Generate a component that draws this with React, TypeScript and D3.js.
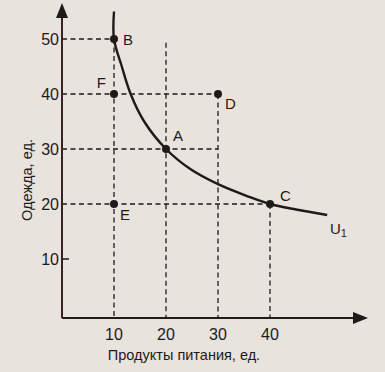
import React from 'react';
import * as d3 from 'd3';

// indifference curve U1 (food, clothes)
const curveFood = [10, 10, 11.5, 13.2, 15.8, 20, 24.6, 30, 36, 40, 45, 51];
const curveClothes = [55, 50, 45, 40, 35, 30, 26.4, 23.6, 21.3, 20, 19, 18];

// labelled bundles
const pointNames = ['B', 'F', 'A', 'D', 'E', 'C'];
const pointFood = [10, 10, 20, 30, 10, 40];
const pointClothes = [50, 40, 30, 40, 20, 20];

const xTicks = [10, 20, 30, 40];
const yTicks = [10, 20, 30, 40, 50];

const W = 385;
const H = 372;
const ink = '#1e1a1a';
const font = 'Liberation Sans, Arial, sans-serif';

const App = () => {
  const x = d3.scaleLinear().domain([0, 10]).range([62, 114]);
  const y = d3.scaleLinear().domain([0, 10]).range([314, 259]);
  const x0 = 62;
  const axisY = 318;

  const curvePts: [number, number][] = curveFood.map((f, i) => [f, curveClothes[i]]);
  const line = d3
    .line<[number, number]>()
    .x((d) => x(d[0]))
    .y((d) => y(d[1]))
    .curve(d3.curveCatmullRom.alpha(0.5));

  // dashed guides: [x1, y1, x2, y2] in data units
  const guides: [number, number, number, number][] = [
    [0, 50, 10, 50],
    [10, 50, 10, 0],
    [0, 40, 30, 40],
    [30, 40, 30, 0],
    [0, 30, 30, 30],
    [20, 49.3, 20, 0],
    [0, 20, 40, 20],
    [40, 20, 40, 0],
  ];

  const labelOffset: Record<string, [number, number, string]> = {
    B: [9, 6, 'start'],
    F: [-8, -6, 'end'],
    A: [7, -8, 'start'],
    D: [7, 15, 'start'],
    E: [6, 16, 'start'],
    C: [10, -3, 'start'],
  };

  return (
    <svg
      width={W}
      height={H}
      style={{ position: 'absolute', left: 0, top: 0, background: '#e8e3dc' }}
      fontFamily={font}
    >
      {guides.map((g, i) => (
        <line
          key={i}
          x1={g[0] === 0 ? x0 : x(g[0])}
          y1={y(g[1])}
          x2={x(g[2])}
          y2={g[3] === 0 ? axisY : y(g[3])}
          stroke={ink}
          strokeWidth={1.3}
          strokeDasharray="5,3.5"
        />
      ))}

      {/* axes */}
      <line x1={x0} y1={axisY} x2={x0} y2={14} stroke="#3a2224" strokeWidth={2} />
      <path d={`M${x0},3 L${x0 - 6},18 L${x0 + 6},18 Z`} fill={ink} />
      <line x1={x0} y1={axisY} x2={356} y2={axisY} stroke={ink} strokeWidth={2} />
      <path d={`M368,${axisY} L353,${axisY - 6} L353,${axisY + 6} Z`} fill={ink} />
      <line x1={x0} y1={y(10)} x2={x0 + 7} y2={y(10)} stroke={ink} strokeWidth={1.5} />

      {yTicks.map((t) => (
        <text key={t} x={x0 - 3} y={y(t) + 6} fontSize={16} textAnchor="end" fill={ink}>
          {t}
        </text>
      ))}
      {xTicks.map((t) => (
        <text key={t} x={x(t)} y={axisY + 22} fontSize={16} textAnchor="middle" fill={ink}>
          {t}
        </text>
      ))}

      <path d={line(curvePts) || ''} fill="none" stroke={ink} strokeWidth={2.4} />

      {pointNames.map((n, i) => {
        const [dx, dy, anchor] = labelOffset[n];
        return (
          <g key={n}>
            <circle cx={x(pointFood[i])} cy={y(pointClothes[i])} r={4} fill={ink} />
            <text
              x={x(pointFood[i]) + dx}
              y={y(pointClothes[i]) + dy}
              fontSize={15}
              textAnchor={anchor}
              fill={ink}
            >
              {n}
            </text>
          </g>
        );
      })}

      <text x={330} y={234} fontSize={15} fill={ink}>
        U<tspan fontSize={11} dy={3}>1</tspan>
      </text>

      <text
        transform={`translate(32,180) rotate(-90)`}
        fontSize={14.5}
        textAnchor="middle"
        fill={ink}
      >
        Одежда, ед.
      </text>
      <text x={184} y={360} fontSize={14.5} textAnchor="middle" fill={ink}>
        Продукты питания, ед.
      </text>
    </svg>
  );
};

export default App;
